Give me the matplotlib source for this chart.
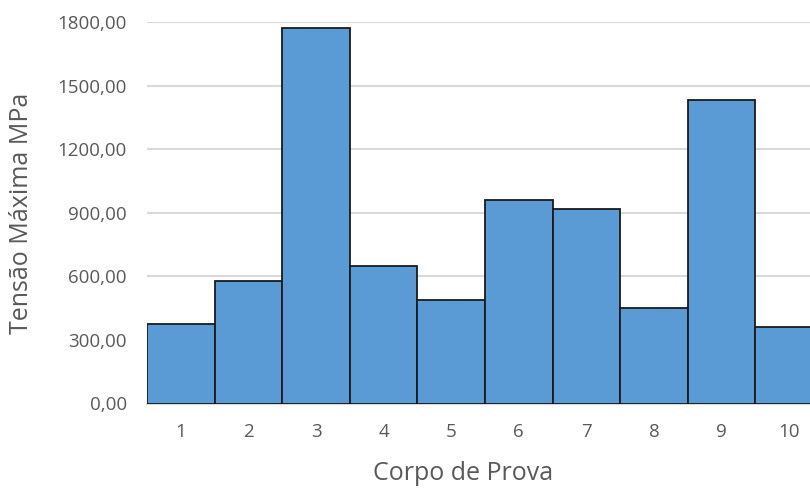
import matplotlib
matplotlib.use("Agg")
import matplotlib.pyplot as plt
from matplotlib.ticker import FuncFormatter

corpos = ["1", "2", "3", "4", "5", "6", "7", "8", "9", "10"]
tensao_max = [374, 580, 1772, 649, 488, 960, 919, 449, 1432, 360]
y_ticks = [0, 300, 600, 900, 1200, 1500, 1800]

plt.rcParams["font.family"] = ["Open Sans", "DejaVu Sans"]
W, H = 810, 488
fig = plt.figure(figsize=(W / 100, H / 100), dpi=100)
# plot area runs past the right edge of the figure
left, right, bottom, top = 147, 823, 403.5, 22
ax = fig.add_axes([left / W, 1 - bottom / H, (right - left) / W, (bottom - top) / H])

x = range(len(corpos))
ax.bar(x, tensao_max, width=1.0, color="#5B9BD5", edgecolor="#1a1a1a", linewidth=1.3, zorder=3)

ax.set_xlim(-0.5, len(corpos) - 0.5)
ax.set_ylim(0, 1800)
ax.set_yticks(y_ticks)
ax.yaxis.set_major_formatter(FuncFormatter(lambda v, p: f"{v:.2f}".replace(".", ",")))
ax.set_xticks(list(x))
ax.set_xticklabels(corpos)
ax.grid(axis="y", color="#d9d9d9", linewidth=1.5, zorder=0)
ax.set_axisbelow(True)
for s in ["top", "right", "left"]:
    ax.spines[s].set_visible(False)
ax.spines["bottom"].set_color("#d9d9d9")
ax.spines["bottom"].set_linewidth(1.5)
ax.tick_params(axis="both", length=0, labelsize=13.5, labelcolor="#595959")
ax.tick_params(axis="x", pad=14)
ax.tick_params(axis="y", pad=14.5)

fig.text(22 / W, 1 - 213 / H, "Tensão Máxima MPa", rotation=90, ha="center", va="center",
         fontsize=18, color="#595959")
fig.text(463 / W, 1 - 473 / H, "Corpo de Prova", ha="center", va="center",
         fontsize=18, color="#595959")

fig.savefig("out.png", dpi=100)
